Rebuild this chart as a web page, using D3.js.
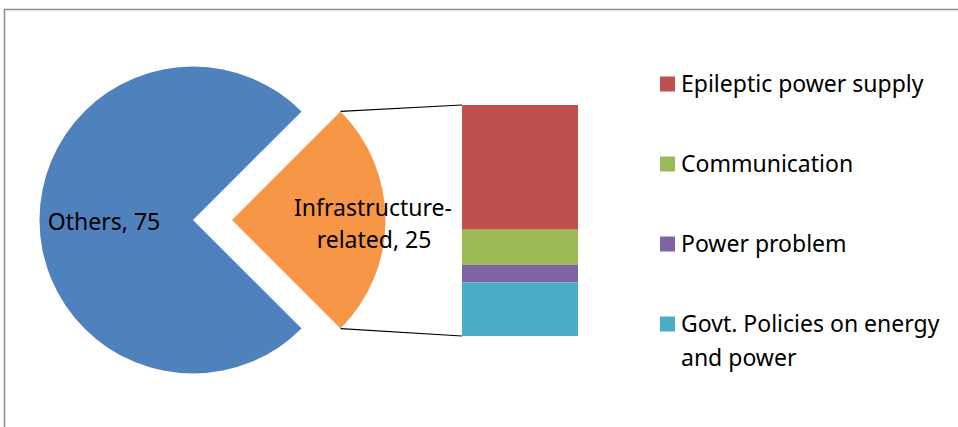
<!DOCTYPE html>
<html>
<head>
<meta charset="utf-8">
<script src="https://cdn.jsdelivr.net/npm/d3@7"></script>
<style>
  html, body { margin: 0; padding: 0; background: #fff; }
  svg { display: block; }
  text { font-family: "Noto Sans", "Open Sans", sans-serif; fill: #000; }
</style>
</head>
<body>
<svg id="chart" width="958" height="427"></svg>
<script>
// Pie: share of problems
const pieCategories = ["Infrastructure-related", "Others"];
const pieValues = [25, 75];

// Bar: breakdown of the infrastructure-related share
const barCategories = ["Epileptic power supply", "Communication", "Power problem", "Govt. Policies on energy and power"];
const barValues = [13.5, 3.8, 1.9, 5.8];

const pieColors = ["#F79646", "#4F81BD"];
const barColors = ["#C0504D", "#9BBB59", "#8064A2", "#4BACC6"];

const svg = d3.select("#chart");

// chart frame
svg.append("rect")
  .attr("x", 4.5).attr("y", 9.5)
  .attr("width", 1000).attr("height", 1000)
  .attr("fill", "none")
  .attr("stroke", "#8c8c8c")
  .attr("stroke-width", 1.5);

// ---- pie ----
const cx = 212.5, cy = 220, radius = 153.5, explode = 19.5;

const pie = d3.pie()
  .sort(null)
  .value(d => d)
  .startAngle(Math.PI / 4)
  .endAngle(Math.PI / 4 + 2 * Math.PI);

const arcs = pie(pieValues);
const arc = d3.arc().innerRadius(0).outerRadius(radius);

function offset(a) {
  const mid = (a.startAngle + a.endAngle) / 2;
  return [Math.sin(mid) * explode, -Math.cos(mid) * explode];
}

const pieG = svg.append("g");
pieG.selectAll("path")
  .data(arcs)
  .join("path")
  .attr("d", arc)
  .attr("fill", (d, i) => pieColors[i])
  .attr("transform", d => {
    const [dx, dy] = offset(d);
    return `translate(${cx + dx},${cy + dy})`;
  });

// ---- bar of pie ----
const barTotal = d3.sum(barValues);
const y = d3.scaleLinear().domain([0, barTotal]).range([336, 105]);
const barX = 462, barW = 116;

let acc = 0;
const stacked = barValues.map((v, i) => {
  const s = { top: acc, bottom: acc + v, i };
  acc += v;
  return s;
});
// first category sits at the top of the bar
svg.append("g").selectAll("rect")
  .data(stacked)
  .join("rect")
  .attr("x", barX)
  .attr("y", d => y(barTotal - d.top))
  .attr("width", barW)
  .attr("height", d => y(barTotal - d.bottom) - y(barTotal - d.top))
  .attr("fill", d => barColors[d.i]);

// connector lines from the exploded slice to the bar
const infra = arcs[0];
const [ox, oy] = offset(infra);
const px = a => cx + ox + Math.sin(a) * radius;
const py = a => cy + oy - Math.cos(a) * radius;
const connectors = [
  [[px(infra.startAngle), py(infra.startAngle)], [barX, y(barTotal)]],
  [[px(infra.endAngle), py(infra.endAngle)], [barX, y(0)]]
];
svg.append("g").selectAll("line")
  .data(connectors)
  .join("line")
  .attr("x1", d => d[0][0]).attr("y1", d => d[0][1])
  .attr("x2", d => d[1][0]).attr("y2", d => d[1][1])
  .attr("stroke", "#000")
  .attr("stroke-width", 1.2);

// data labels
svg.append("text")
  .attr("x", 104).attr("y", 230)
  .attr("text-anchor", "middle")
  .style("font-size", "23px")
  .text(`${pieCategories[1]}, ${pieValues[1]}`);

const infraLabel = svg.append("text")
  .attr("text-anchor", "middle")
  .style("font-size", "23px");
infraLabel.append("tspan").attr("x", 373).attr("y", 216).text("Infrastructure-");
infraLabel.append("tspan").attr("x", 374).attr("y", 248).text(`related, ${pieValues[0]}`);

// ---- legend ----
const legend = svg.append("g");
const rowY = [92, 172, 252, 332];
const legendLines = [
  ["Epileptic power supply"],
  ["Communication"],
  ["Power problem"],
  ["Govt. Policies on energy", "and power"]
];
barCategories.forEach((c, i) => {
  legend.append("rect")
    .attr("x", 660).attr("y", rowY[i] - 15.5)
    .attr("width", 15).attr("height", 15)
    .attr("fill", barColors[i]);
  const t = legend.append("text").style("font-size", "23px");
  legendLines[i].forEach((ln, j) => {
    t.append("tspan").attr("x", 681).attr("y", rowY[i] + j * 33.5).text(ln);
  });
});
</script>
</body>
</html>
